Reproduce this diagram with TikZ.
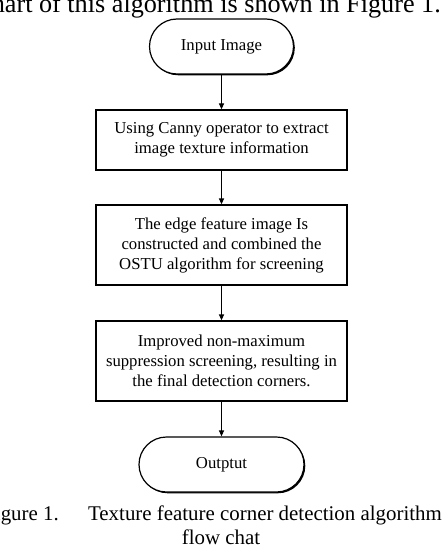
\documentclass[tikz,border=0pt]{standalone}
\usepackage{fontspec}
\setmainfont{Liberation Serif}
\usetikzlibrary{arrows.meta,shadows}
\begin{document}
\begin{tikzpicture}[x=1pt,y=-1pt,
  boxtext/.style={font=\fontsize{16.7}{20}\selectfont, align=center},
  shad/.style={drop shadow={shadow xshift=1.3pt, shadow yshift=-1.3pt, opacity=1, fill=black}},
  procbox/.style={boxtext, draw, line width=1.2pt, fill=white, shad, minimum width=251pt, inner sep=0pt},
  termbox/.style={boxtext, draw, line width=1.2pt, fill=white, shad, minimum height=55pt, rounded corners=27.5pt, inner sep=0pt},
  arr/.style={line width=1.2pt, -{Triangle[length=6pt,width=5pt]}},
  captext/.style={font=\fontsize{20.9}{24}\selectfont, inner sep=0pt},
  bodytext/.style={font=\fontsize{26.2}{30}\selectfont, inner sep=0pt}
]
\useasboundingbox (0,0) rectangle (444,548);
\clip (0,0) rectangle (444,548);
\fill[white] (0,0) rectangle (444,548);

\node[bodytext, anchor=base east] (top) at (441,12.5) {chart of this algorithm is shown in Figure 1.};

\node[termbox, minimum width=144pt] (in) at (221.5,46.5) {Input Image};
\node[procbox, minimum height=60pt] (b1) at (221.5,140) {Using Canny operator to extract\\image texture information};
\node[procbox, minimum height=80pt] (b2) at (221.5,245) {The edge feature image Is\\constructed and combined the\\OSTU algorithm for screening};
\node[procbox, minimum height=80pt] (b3) at (221.5,361) {Improved non-maximum\\suppression screening, resulting in\\the final detection corners.};
\node[termbox, minimum width=165pt] (out) at (221.5,464.5) {Outptut};

\draw[arr] (in.south) -- (b1.north);
\draw[arr] (b1.south) -- (b2.north);
\draw[arr] (b2.south) -- (b3.north);
\draw[arr] (b3.south) -- (out.north);

\node[captext, anchor=base east] (fig) at (59,520) {Figure 1.};
\node[captext, anchor=base east] (cap1) at (442,520) {Texture feature corner detection algorithm};
\node[captext, anchor=base] (cap2) at (221,544) {flow chat};
\end{tikzpicture}
\end{document}
